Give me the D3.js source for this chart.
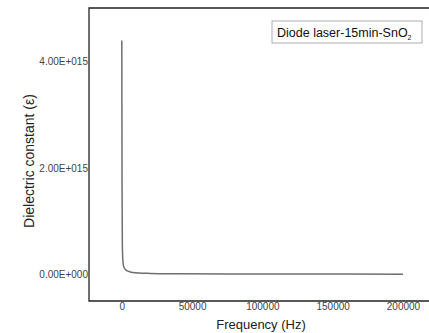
<!DOCTYPE html>
<html>
<head>
<meta charset="utf-8">
<script src="https://cdn.jsdelivr.net/npm/d3@7"></script>
<style>
  body { margin: 0; background: #fff; }
  svg { font-family: "Liberation Sans", Arial, sans-serif; }
  .tick text { fill: #444; font-size: 10px; }
</style>
</head>
<body>
<div id="chart"></div>
<script>
// data (frequency in Hz, dielectric constant)
var freq = [40, 100, 200, 400, 700, 1000, 1500, 2000, 3000, 4000, 6000, 8000, 12000, 20000, 40000, 80000, 120000, 160000, 200000];
var epsilon = [4.39e15, 3.2e15, 1.6e15, 0.6e15, 0.3e15, 0.2e15, 0.14e15, 0.11e15, 0.08e15, 0.065e15, 0.045e15, 0.035e15, 0.025e15, 0.018e15, 0.012e15, 0.008e15, 0.006e15, 0.005e15, 0.004e15];
var xTicks = [0, 50000, 100000, 150000, 200000];
var yTicks = [0, 2e15, 4e15];
var yTickLabels = ["0.00E+000", "2.00E+015", "4.00E+015"];

var W = 429, H = 333;
var plotL = 89, plotT = 8, plotR = 429, plotB = 301;

var svg = d3.select("#chart").append("svg")
  .attr("width", W)
  .attr("height", H);

var x = d3.scaleLinear()
  .domain([-23300, 218500])
  .range([plotL, plotR]);

var y = d3.scaleLinear()
  .domain([-0.5e15, 5.0e15])
  .range([plotB, plotT]);

var rows = freq.map(function (f, i) { return {f: f, v: epsilon[i]}; });

// curve
var line = d3.line()
  .x(function (d) { return x(d.f); })
  .y(function (d) { return y(d.v); })
  .curve(d3.curveMonotoneX);

svg.append("path")
  .datum(rows)
  .attr("fill", "none")
  .attr("stroke", "#6e6e6e")
  .attr("stroke-width", 1.5)
  .attr("d", line);

// axes (no tick marks, only labels)
var yAxis = d3.axisLeft(y)
  .tickValues(yTicks)
  .tickSize(0)
  .tickPadding(1)
  .tickFormat(function (d, i) { return yTickLabels[i]; });

svg.append("g")
  .attr("transform", "translate(" + plotL + ",0)")
  .call(yAxis)
  .call(function (g) { g.select(".domain").remove(); });

var xAxis = d3.axisBottom(x)
  .tickValues(xTicks)
  .tickSize(0)
  .tickPadding(2)
  .tickFormat(d3.format("d"));

svg.append("g")
  .attr("transform", "translate(0," + plotB + ")")
  .call(xAxis)
  .call(function (g) { g.select(".domain").remove(); });

// frame: top, left, bottom
svg.append("path")
  .attr("fill", "none")
  .attr("stroke", "#222")
  .attr("stroke-width", 1.3)
  .attr("d", "M" + plotR + "," + plotT + "H" + plotL + "V" + plotB + "H" + plotR);

// axis titles
svg.append("text")
  .attr("transform", "translate(" + 34 + "," + 161 + ") rotate(-90)")
  .attr("text-anchor", "middle")
  .style("font-size", "14px")
  .style("fill", "#222")
  .text("Dielectric constant (ε)");

svg.append("text")
  .attr("x", 261)
  .attr("y", 329)
  .attr("text-anchor", "middle")
  .style("font-size", "13px")
  .style("fill", "#222")
  .text("Frequency (Hz)");

// legend box
svg.append("rect")
  .attr("x", 272)
  .attr("y", 21)
  .attr("width", 150)
  .attr("height", 22)
  .attr("fill", "#fff")
  .attr("stroke", "#999")
  .attr("stroke-width", 0.8);

var leg = svg.append("text")
  .attr("x", 277)
  .attr("y", 37)
  .style("font-size", "12.5px")
  .style("fill", "#111");
leg.append("tspan").text("Diode laser-15min-SnO");
leg.append("tspan")
  .attr("dy", 3)
  .style("font-size", "7px")
  .text("2");
</script>
</body>
</html>
